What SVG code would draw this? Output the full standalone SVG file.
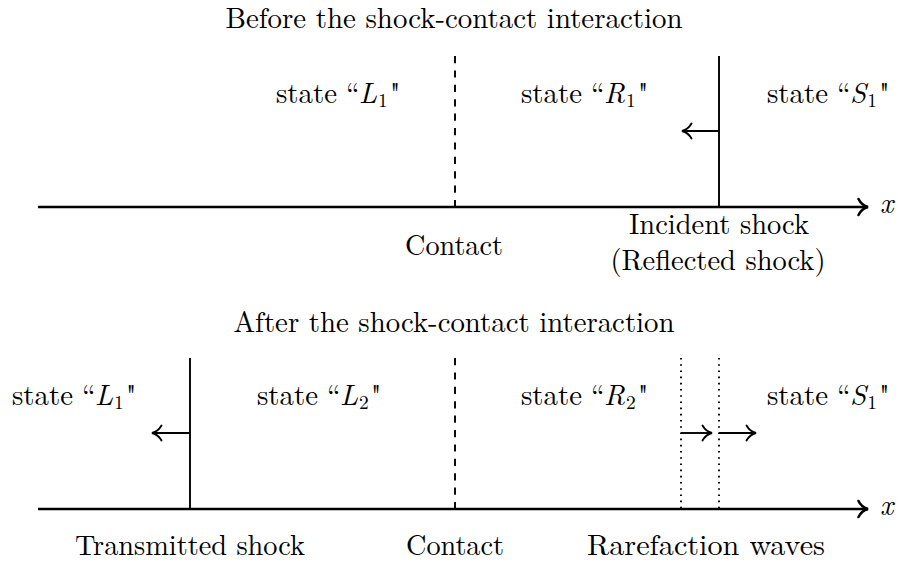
<svg xmlns="http://www.w3.org/2000/svg" width="898" height="564" viewBox="0 0 898 564">
<style>
  text { font-family: "CMU Serif", "Latin Modern Roman", "Liberation Serif", "Tinos", "Times New Roman", "Noto Serif", "DejaVu Serif", "FreeSerif", "Nimbus Roman", "TeX Gyre Termes", Georgia, Times, serif; font-size: 28.8px; fill: #000; }
  .c { text-anchor: middle; }
  .it { font-style: italic; }
  .sub { font-size: 19.5px; }
  .axis { stroke: #000; stroke-width: 2.7; fill: none; }
  .solid { stroke: #000; stroke-width: 1.9; fill: none; }
  .dash { stroke: #000; stroke-width: 1.9; fill: none; stroke-dasharray: 7.2 7.2; }
  .dot { stroke: #000; stroke-width: 1.9; fill: none; stroke-dasharray: 1.6 4.6; }
  .arr { stroke: #000; stroke-width: 1.9; fill: none; marker-end: url(#ah); }
</style>
<defs>
  <marker id="ah" markerUnits="userSpaceOnUse" markerWidth="14" markerHeight="20" refX="11" refY="10" orient="auto" overflow="visible">
    <path d="M1.5,2.5 C3.5,6 7,9 11,10 C7,11 3.5,14 1.5,17.5" fill="none" stroke="#000" stroke-width="1.9" stroke-linecap="round"/>
  </marker>
  <marker id="axh" markerUnits="userSpaceOnUse" markerWidth="14" markerHeight="20" refX="11" refY="10" orient="auto" overflow="visible">
    <path d="M1.5,2 C3.5,6 7,9 11,10 C7,11 3.5,14 1.5,18" fill="none" stroke="#000" stroke-width="2.6" stroke-linecap="round"/>
  </marker>
</defs>

<!-- ===== Top panel ===== -->
<g id="title-before">
  <text class="c" x="454" y="28" textLength="457" lengthAdjust="spacingAndGlyphs">Before the shock-contact interaction</text>
</g>

<g id="state-L1-top">
  <text x="276" y="103"><tspan textLength="61" lengthAdjust="spacingAndGlyphs">state</tspan><tspan x="346">“</tspan><tspan class="it" x="359">L</tspan><tspan class="sub" dx="1" dy="4.3">1</tspan><tspan dx="2" dy="-4.3">"</tspan></text>
</g>
<g id="state-R1-top">
  <text x="521" y="103"><tspan textLength="61" lengthAdjust="spacingAndGlyphs">state</tspan><tspan x="591">“</tspan><tspan class="it" x="604">R</tspan><tspan class="sub" dx="1" dy="4.3">1</tspan><tspan dx="2" dy="-4.3">"</tspan></text>
</g>
<g id="state-S1-top">
  <text x="767" y="103"><tspan textLength="61" lengthAdjust="spacingAndGlyphs">state</tspan><tspan x="837">“</tspan><tspan class="it" x="850">S</tspan><tspan class="sub" dx="1" dy="4.3">1</tspan><tspan dx="2" dy="-4.3">"</tspan></text>
</g>

<g id="contact-top">
  <line class="dash" x1="455" y1="56" x2="455" y2="207"/>
  <text class="c" x="454" y="255" textLength="98" lengthAdjust="spacingAndGlyphs">Contact</text>
</g>

<g id="incident-shock">
  <line class="solid" x1="719" y1="56" x2="719" y2="207"/>
  <text class="c" x="719" y="234" textLength="180" lengthAdjust="spacingAndGlyphs">Incident shock</text>
  <text class="c" x="718" y="270" textLength="215" lengthAdjust="spacingAndGlyphs">(Reflected shock)</text>
</g>

<!-- ===== Bottom panel ===== -->
<g id="title-after">
  <text class="c" x="454" y="332" textLength="441" lengthAdjust="spacingAndGlyphs">After the shock-contact interaction</text>
</g>

<g id="state-L1-bottom">
  <text x="12" y="405"><tspan textLength="61" lengthAdjust="spacingAndGlyphs">state</tspan><tspan x="82">“</tspan><tspan class="it" x="95">L</tspan><tspan class="sub" dx="1" dy="4.3">1</tspan><tspan dx="2" dy="-4.3">"</tspan></text>
</g>
<g id="state-L2">
  <text x="257" y="405"><tspan textLength="61" lengthAdjust="spacingAndGlyphs">state</tspan><tspan x="327">“</tspan><tspan class="it" x="340">L</tspan><tspan class="sub" dx="1" dy="4.3">2</tspan><tspan dx="2" dy="-4.3">"</tspan></text>
</g>
<g id="state-R2">
  <text x="521" y="405"><tspan textLength="61" lengthAdjust="spacingAndGlyphs">state</tspan><tspan x="591">“</tspan><tspan class="it" x="604">R</tspan><tspan class="sub" dx="1" dy="4.3">2</tspan><tspan dx="2" dy="-4.3">"</tspan></text>
</g>
<g id="state-S1-bottom">
  <text x="767" y="405"><tspan textLength="61" lengthAdjust="spacingAndGlyphs">state</tspan><tspan x="837">“</tspan><tspan class="it" x="850">S</tspan><tspan class="sub" dx="1" dy="4.3">1</tspan><tspan dx="2" dy="-4.3">"</tspan></text>
</g>

<g id="transmitted-shock">
  <line class="solid" x1="190" y1="358" x2="190" y2="509"/>
  <text class="c" x="190" y="555" textLength="230" lengthAdjust="spacingAndGlyphs">Transmitted shock</text>
</g>

<g id="contact-bottom">
  <line class="dash" x1="455" y1="358" x2="455" y2="509"/>
  <text class="c" x="455" y="555" textLength="98" lengthAdjust="spacingAndGlyphs">Contact</text>
</g>

<g id="rarefaction-waves">
  <line class="dot" x1="681" y1="358" x2="681" y2="509"/>
  <line class="dot" x1="719" y1="358" x2="719" y2="509"/>
  <text class="c" x="706" y="555" textLength="238" lengthAdjust="spacingAndGlyphs">Rarefaction waves</text>
</g>

<!-- ===== Axes and arrows ===== -->
<g id="connectors">
  <line class="axis" x1="38" y1="207" x2="868" y2="207" marker-end="url(#axh)"/>
  <line class="axis" x1="38" y1="509" x2="868" y2="509" marker-end="url(#axh)"/>
  <line class="arr" x1="719" y1="131" x2="682" y2="131"/>
  <line class="arr" x1="190" y1="433" x2="152" y2="433"/>
  <line class="arr" x1="681" y1="433" x2="712" y2="433"/>
  <line class="arr" x1="719" y1="433" x2="756" y2="433"/>
</g>

<g id="axis-labels">
  <text class="it" x="880" y="213">x</text>
  <text class="it" x="880" y="515">x</text>
</g>
</svg>
